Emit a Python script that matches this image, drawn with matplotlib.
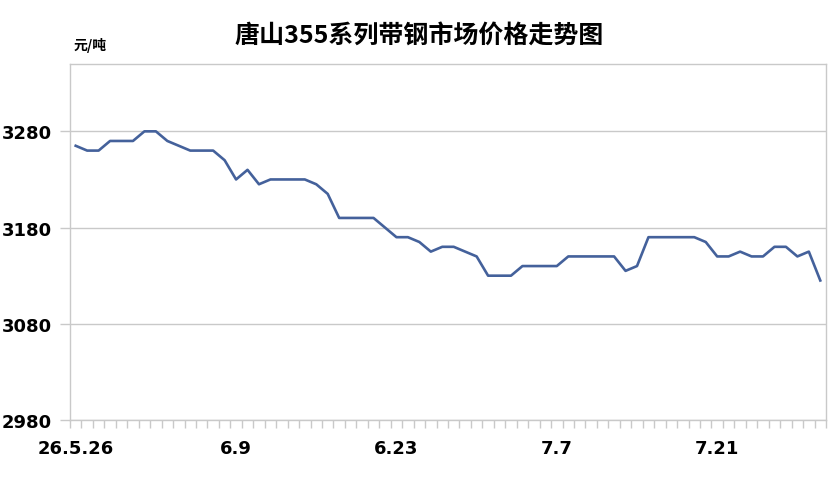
import matplotlib
matplotlib.use("Agg")
import matplotlib.pyplot as plt
import pandas as pd

plt.rcParams['font.family'] = ['Noto Sans CJK SC', 'DejaVu Sans']

####### Data #######
TITLE = "唐山355系列带钢市场价格走势图"
UNIT = "元/吨"
dates = pd.date_range("2026-05-26", "2026-07-30", freq="D")
prices = [3265, 3260, 3260, 3270, 3270, 3270, 3280, 3280, 3270, 3265,
          3260, 3260, 3260, 3250, 3230, 3240, 3225, 3230, 3230, 3230,
          3230, 3225, 3215, 3190, 3190, 3190, 3190, 3180, 3170, 3170,
          3165, 3155, 3160, 3160, 3155, 3150, 3130, 3130, 3130, 3140,
          3140, 3140, 3140, 3150, 3150, 3150, 3150, 3150, 3135, 3140,
          3170, 3170, 3170, 3170, 3170, 3165, 3150, 3150, 3155, 3150,
          3150, 3160, 3160, 3150, 3155, 3125]
label_dates = ["2026-05-26", "2026-06-09", "2026-06-23", "2026-07-07", "2026-07-21"]
tick_labels = ["26.5.26", "6.9", "6.23", "7.7", "7.21"]
y_ticks = [2980, 3080, 3180, 3280]
Y_MIN, Y_MAX = 2980, 3350

LINE_COLOR = "#44619b"
GRID_COLOR = "#c9c9c9"

fig = plt.figure(figsize=(8.31, 4.81), dpi=100)
ax = fig.add_axes([0.0842, 0.1247, 0.9098, 0.7402])

x = list(range(len(prices)))
ax.plot(x, prices, color=LINE_COLOR, linewidth=1.9, solid_joinstyle='round')

ax.set_xlim(-0.5, len(prices) - 0.5)
ax.set_ylim(Y_MIN, Y_MAX)

# category axis: tick marks between categories, labels every 14 days
pos = [list(dates).index(pd.Timestamp(d)) for d in label_dates]
ax.set_xticks(pos)
ax.set_xticklabels(tick_labels, fontsize=13, fontweight='bold', family='DejaVu Sans')
ax.set_xticks([i - 0.5 for i in range(len(prices) + 1)], minor=True)
ax.tick_params(axis='x', which='major', length=0, pad=14)
ax.tick_params(axis='x', which='minor', length=6, color=GRID_COLOR, width=1)

ax.set_yticks(y_ticks)
ax.set_yticklabels([str(v) for v in y_ticks], fontsize=13, fontweight='bold', family='DejaVu Sans')
ax.tick_params(axis='y', length=7, color=GRID_COLOR, width=1, pad=6)
ax.yaxis.grid(True, color=GRID_COLOR, linewidth=1)
ax.set_axisbelow(True)

for s in ax.spines.values():
    s.set_color(GRID_COLOR)
    s.set_linewidth(1)

fig.text(0.505, 0.923, TITLE, ha='center', va='center', fontsize=18, fontweight='bold')
fig.text(0.088, 0.905, UNIT, ha='left', va='center', fontsize=10, fontweight='bold')

fig.savefig("out.png", dpi=100)
